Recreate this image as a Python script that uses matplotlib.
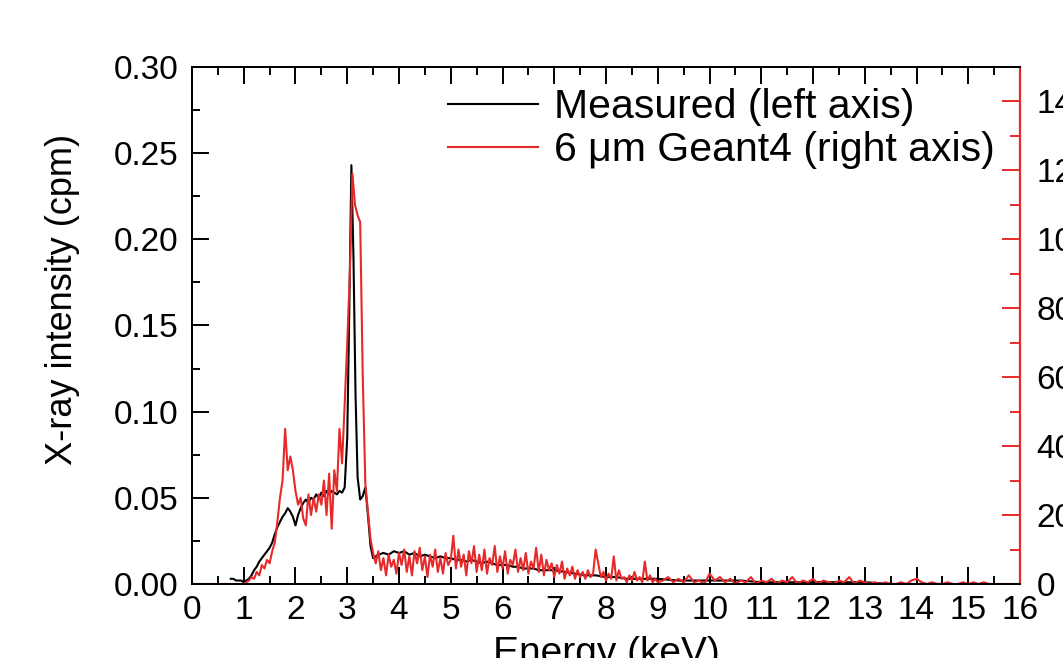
import numpy as np
import matplotlib
matplotlib.use("Agg")
from matplotlib import pyplot as plt
from matplotlib.ticker import MultipleLocator

plt.rcParams["font.family"] = ["Liberation Sans", "DejaVu Sans"]

# measured spectrum (left axis, cpm)
measE = [0.75, 0.8, 0.85, 0.9, 0.95, 1.0, 1.05, 1.1, 1.15, 1.2, 1.25, 1.3, 1.35, 1.4, 1.45,
         1.5, 1.55, 1.6, 1.65, 1.7, 1.75, 1.8, 1.85, 1.9, 1.95, 2.0, 2.05, 2.1, 2.15, 2.2,
         2.25, 2.3, 2.35, 2.4, 2.45, 2.5, 2.55, 2.6, 2.65, 2.7, 2.75, 2.8, 2.85, 2.9, 2.95,
         3.0, 3.04, 3.08, 3.12, 3.16, 3.2, 3.25, 3.3, 3.35, 3.4, 3.45, 3.5,
         3.6, 3.7, 3.8, 3.9, 4.0, 4.1, 4.2, 4.3, 4.4, 4.5, 4.6, 4.7, 4.8, 4.9,
         5.0, 5.1, 5.2, 5.3, 5.4, 5.5, 5.6, 5.7, 5.8, 5.9, 6.0, 6.1, 6.2, 6.3, 6.4,
         6.5, 6.6, 6.7, 6.8, 6.9, 7.0, 7.2, 7.4, 7.6, 7.8, 8.0, 8.2, 8.4, 8.6, 8.8,
         9.0, 9.4, 9.8, 10.2, 10.6, 11.0, 11.5, 12.0, 12.5, 13.0, 13.5, 14.0, 14.5]
measured = [0.003, 0.003, 0.002, 0.002, 0.002, 0.001, 0.002, 0.003, 0.005, 0.008, 0.010,
            0.013, 0.015, 0.017, 0.019, 0.021, 0.024, 0.029, 0.033, 0.036, 0.039, 0.041,
            0.044, 0.042, 0.039, 0.034, 0.040, 0.044, 0.047, 0.049, 0.047, 0.050, 0.049,
            0.052, 0.050, 0.053, 0.051, 0.054, 0.052, 0.054, 0.053, 0.052, 0.054, 0.053,
            0.056, 0.085, 0.160, 0.243, 0.190, 0.110, 0.062, 0.049, 0.051, 0.056, 0.040,
            0.022, 0.015,
            0.017, 0.018, 0.017, 0.019, 0.018, 0.019, 0.017, 0.018, 0.016, 0.017, 0.016,
            0.015, 0.016, 0.015, 0.015, 0.014, 0.014, 0.013, 0.014, 0.013, 0.012, 0.013,
            0.012, 0.011, 0.011, 0.011, 0.010, 0.010, 0.009, 0.009, 0.009, 0.008, 0.008,
            0.008, 0.008, 0.007, 0.006, 0.005, 0.005, 0.004, 0.004, 0.003, 0.003, 0.003,
            0.003, 0.002, 0.002, 0.002, 0.002, 0.001, 0.001, 0.001, 0.001, 0.001, 0.000,
            0.000, 0.000]

# Geant4 simulation, 6 um (right axis, counts)
simE_low = [0.0, 0.5, 0.95]
sim_low = [0, 0, 0]
simE_mid = np.round(np.arange(1.0, 9.0001, 0.05), 2)   # 0.05 keV bins
sim_mid = [0, 5, 10, 20, 15, 35, 25, 55, 45, 70, 60, 95, 120, 180, 250, 300, 450, 330, 370, 330,
           270, 230, 250, 190, 170, 260, 200, 250, 210, 260, 230, 300, 200, 320, 160, 330, 270, 450,
           350, 520, 700,
           900, 1190, 1100, 1070, 1050, 600, 290, 210, 130, 90,
           60, 95, 40, 75, 25, 85, 50, 70, 30, 90, 55, 100, 35, 80, 25, 95, 60, 105, 40, 80,
           20, 85, 50, 100, 35, 75, 30, 90, 55, 70, 140, 45, 100, 50, 85, 25, 95, 60, 110, 35,
           85, 40, 100, 30, 75, 55, 110, 35, 80, 45, 95, 30, 70, 55, 100, 35, 75, 40, 90, 30,
           65, 45, 105, 35, 85, 25, 70, 40, 60, 20, 55, 30, 65, 15, 45, 25, 50, 15, 40, 20,
           35, 15, 40, 20, 30, 100, 60, 20, 35, 10, 30, 15, 80, 10, 40, 15, 20, 5, 25, 10,
           35, 10, 20, 5, 65, 10, 25, 5, 15, 5]
simE_high = np.round(np.arange(9.1, 16.0001, 0.1), 1)
sim_high = [10, 20, 5, 15, 5, 25, 5, 10, 0, 30, 10, 20, 5, 15, 0, 10, 5, 20, 0, 10,
            5, 15, 0, 10, 5, 20, 0, 10, 5, 15, 0, 10, 5, 0, 10, 5, 20, 0, 10, 5,
            0, 5, 0, 5, 0, 0, 5, 0, 10, 15, 5, 0, 5, 0, 0, 5, 0, 0, 5, 0,
            5, 0, 5, 0, 0, 0, 0, 0, 0, 0]

simE = np.concatenate([simE_low, simE_mid, simE_high])
sim = np.concatenate([sim_low, sim_mid, sim_high])

red = "#e62a2a"

fig = plt.figure(figsize=(10.63, 6.58), dpi=100)
ax = fig.add_axes([0.1806, 0.1125, 0.779, 0.7857])
ax2 = ax.twinx()

l1, = ax.plot(measE, measured, color="black", lw=1.5)
l2, = ax2.plot(simE, sim, color=red, lw=1.5)

ax.set_xlim(0, 16)
ax.set_ylim(0, 0.30)
ax2.set_ylim(0, 1500)

ax.xaxis.set_major_locator(MultipleLocator(1))
ax.xaxis.set_minor_locator(MultipleLocator(0.5))
ax.yaxis.set_major_locator(MultipleLocator(0.05))
ax.yaxis.set_minor_locator(MultipleLocator(0.025))
ax.yaxis.set_major_formatter(plt.FormatStrFormatter("%.2f"))
ax2.yaxis.set_major_locator(MultipleLocator(200))
ax2.yaxis.set_minor_locator(MultipleLocator(100))

ax.tick_params(axis="both", which="both", direction="in", top=True, right=False,
               labelsize=24, width=1.4)
ax.tick_params(axis="both", which="major", length=12)
ax.tick_params(axis="both", which="minor", length=6)
ax.tick_params(axis="x", pad=8)
ax.tick_params(axis="y", pad=10)
ax2.tick_params(axis="y", which="both", direction="in", colors=red, labelcolor="black",
                labelsize=24, width=1.4, pad=12)
ax2.tick_params(axis="y", which="major", length=13)
ax2.tick_params(axis="y", which="minor", length=7)

for s in ["left", "bottom", "top"]:
    ax.spines[s].set_linewidth(1.4)
    ax2.spines[s].set_linewidth(1.4)
ax2.spines["right"].set_color(red)
ax2.spines["right"].set_linewidth(1.6)
ax.spines["right"].set_visible(False)

ax.set_xlabel("Energy (keV)", fontsize=28)
ax.xaxis.set_label_coords(0.5, -0.10)
ax.set_ylabel("X-ray intensity (cpm)", fontsize=26)
ax.yaxis.set_label_coords(-0.135, 0.55)

ax2.legend([l1, l2], ["Measured (left axis)", "6 \u03bcm Geant4 (right axis)"],
           loc="upper right", bbox_to_anchor=(0.970, 0.959), frameon=False,
           fontsize=29.5, handlelength=2.2, handletextpad=0.4, labelspacing=0.12,
           borderpad=0, borderaxespad=0)

fig.savefig("out.png", dpi=100)
